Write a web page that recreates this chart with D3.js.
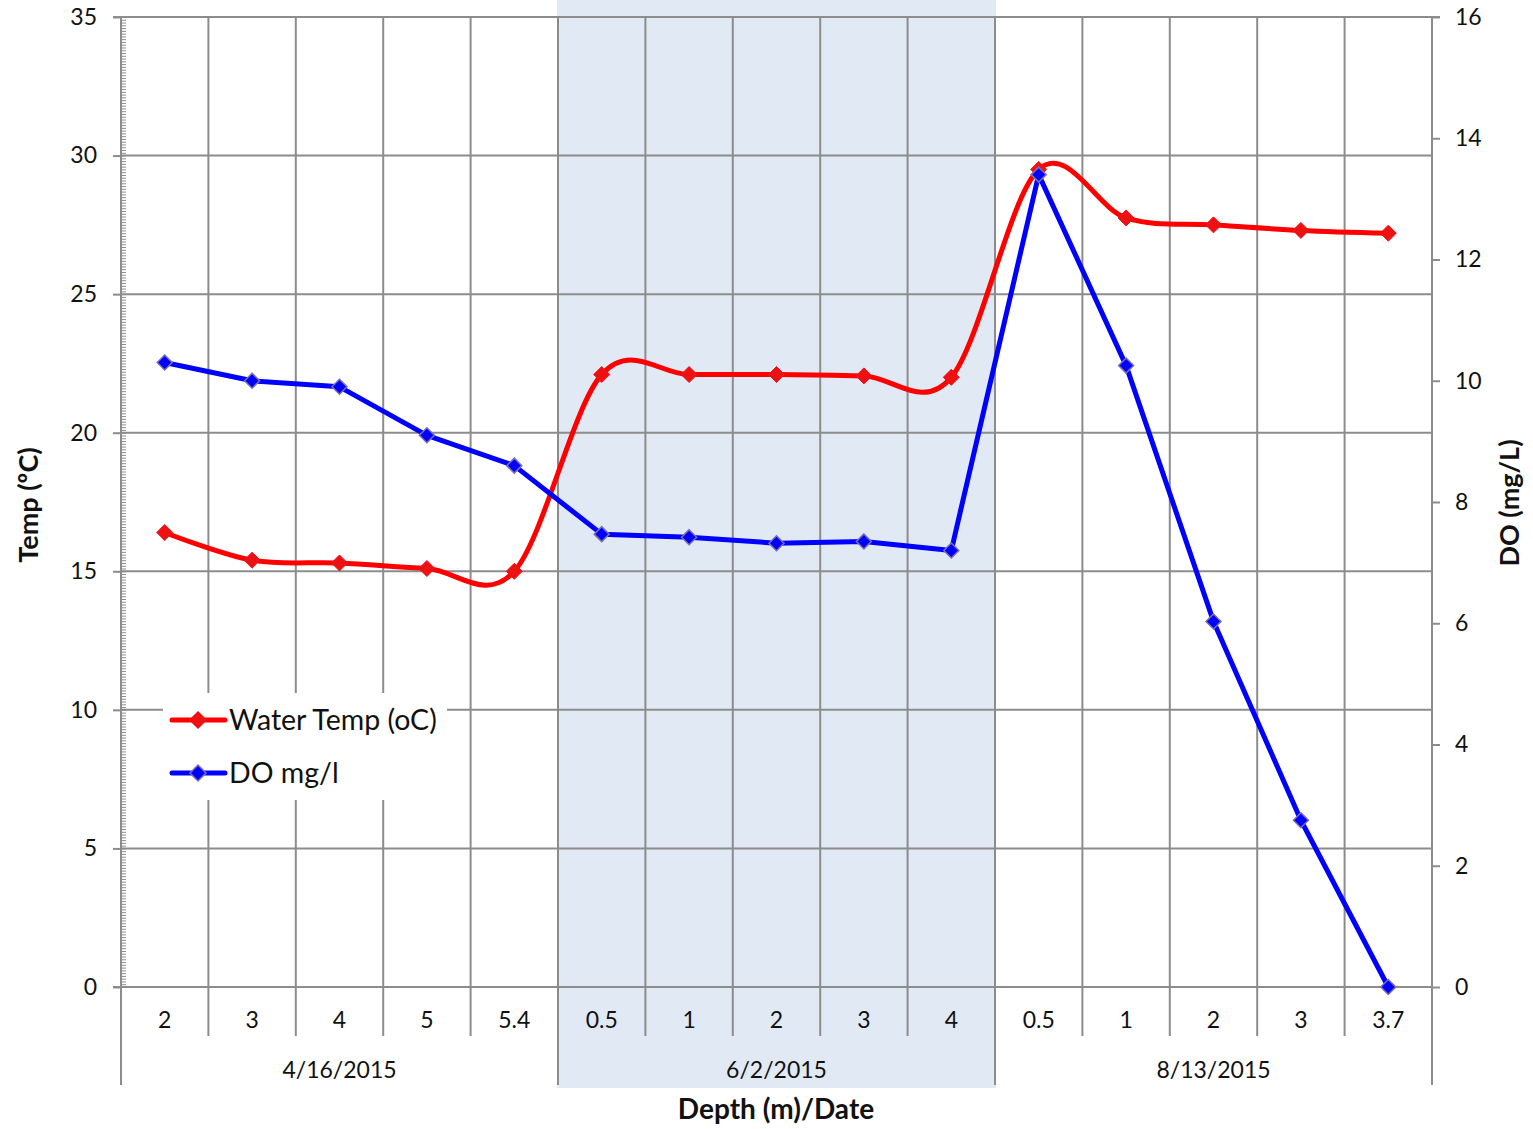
<!DOCTYPE html>
<html><head><meta charset="utf-8">
<script src="https://cdnjs.cloudflare.com/ajax/libs/d3/7.8.5/d3.min.js"></script>
<style>
html,body{margin:0;padding:0;background:#fff;}
svg{display:block;font-family:Lato,"Open Sans",sans-serif;}
</style></head>
<body>
<svg id="chart" width="1533" height="1129"></svg>
<script>
// ---- data ----
const depths = ["2","3","4","5","5.4","0.5","1","2","3","4","0.5","1","2","3","3.7"];
const dates = ["4/16/2015","6/2/2015","8/13/2015"];
const groupSizes = [5,5,5];
const waterTemp = [16.4,15.4,15.3,15.1,15.0,22.1,22.1,22.1,22.05,22.0,29.5,27.75,27.5,27.3,27.2];
const doValues  = [10.3,10.0,9.9,9.1,8.6,7.47,7.42,7.32,7.35,7.2,13.4,10.25,6.03,2.75,0.0];
const tempTicks = [0,5,10,15,20,25,30,35];
const doTicks = [0,2,4,6,8,10,12,14,16];
const shadedGroup = 1;
const titleText = "Water Temperature and DO Depth Profile";

// ---- layout ----
const L = 121, R = 1432, T = 17, B = 987;
const svg = d3.select("#chart");
const x = d3.scaleBand().domain(d3.range(depths.length)).range([L, R]).padding(0);
const yL = d3.scaleLinear().domain([0,35]).range([B, T]);
const yR = d3.scaleLinear().domain([0,16]).range([B, T]);
const grid = "#8c8c8c";
const txt = "#111";

// group boundaries
const starts = [];
let acc = 0;
groupSizes.forEach(s => { starts.push(acc); acc += s; });

// shaded group
const g0 = starts[shadedGroup], g1 = g0 + groupSizes[shadedGroup];
svg.append("rect")
  .attr("x", x(g0) - 1).attr("y", 0)
  .attr("width", x(g1 - 1) + x.bandwidth() - x(g0) + 2)
  .attr("height", 1088)
  .attr("fill", "#e1e9f4");

// horizontal gridlines
svg.append("g").selectAll("line").data(tempTicks).join("line")
  .attr("x1", L).attr("x2", R)
  .attr("y1", d => yL(d)).attr("y2", d => yL(d))
  .attr("stroke", grid).attr("stroke-width", 2);

// vertical gridlines + axis separators
const isGroupEdge = i => starts.includes(i) || i === depths.length;
svg.append("g").selectAll("line").data(d3.range(0, depths.length + 1)).join("line")
  .attr("x1", i => i === depths.length ? R : x(i))
  .attr("x2", i => i === depths.length ? R : x(i))
  .attr("y1", T)
  .attr("y2", i => isGroupEdge(i) ? 1085 : 1036)
  .attr("stroke", grid).attr("stroke-width", 2);

// left axis major ticks + labels
const axL = svg.append("g").attr("transform", `translate(${L},0)`)
  .call(d3.axisLeft(yL).tickValues(tempTicks).tickSize(8).tickPadding(16).tickFormat(d3.format("d")));
axL.select(".domain").remove();
axL.selectAll("line").attr("stroke", grid).attr("stroke-width", 2);
axL.selectAll("text").attr("font-size", 23).attr("fill", txt).attr("font-family", "Lato");

// left axis minor ticks (inside)
const axLm = svg.append("g").attr("transform", `translate(${L},0)`)
  .call(d3.axisRight(yL).tickValues(d3.range(0, 35.001, 0.1)).tickSize(5).tickFormat(""));
axLm.select(".domain").remove();
axLm.selectAll("line").attr("stroke", grid).attr("stroke-width", 1);

// right axis
const axR = svg.append("g").attr("transform", `translate(${R},0)`)
  .call(d3.axisRight(yR).tickValues(doTicks).tickSize(8).tickPadding(15).tickFormat(d3.format("d")));
axR.select(".domain").remove();
axR.selectAll("line").attr("stroke", grid).attr("stroke-width", 2);
axR.selectAll("text").attr("font-size", 23).attr("fill", txt).attr("font-family", "Lato");

// bottom axis baseline (extends for left tick)
svg.append("line").attr("x1", L - 8).attr("x2", R).attr("y1", B).attr("y2", B)
  .attr("stroke", grid).attr("stroke-width", 2);
svg.append("line").attr("x1", L - 8).attr("x2", R + 8).attr("y1", T).attr("y2", T)
  .attr("stroke", grid).attr("stroke-width", 2);

// depth labels
const axB = svg.append("g").attr("transform", `translate(0,${B})`)
  .call(d3.axisBottom(x).tickSize(0).tickPadding(25).tickFormat(i => depths[i]));
axB.select(".domain").remove();
axB.selectAll("text").attr("font-size", 23).attr("fill", txt).attr("font-family", "Lato");

// date labels
svg.append("g").selectAll("text").data(dates).join("text")
  .attr("x", (d, k) => (x(starts[k]) + x(starts[k] + groupSizes[k] - 1) + x.bandwidth()) / 2)
  .attr("y", 1078)
  .attr("text-anchor", "middle").attr("font-size", 23).attr("fill", txt)
  .text(d => d);

// series
const temp = waterTemp.map((v, i) => [x(i) + x.bandwidth() / 2, yL(v)]);
const dov = doValues.map((v, i) => [x(i) + x.bandwidth() / 2, yR(v)]);
const red = "#ff0000", blue = "#0000ff";

svg.append("path").attr("d", d3.line().curve(d3.curveCardinal.tension(0))(temp))
  .attr("fill", "none").attr("stroke", red).attr("stroke-width", 5).attr("stroke-linejoin", "round");
svg.append("path").attr("d", d3.line()(dov))
  .attr("fill", "none").attr("stroke", blue).attr("stroke-width", 5).attr("stroke-linejoin", "round");

const diamond = s => `M0,${-s}L${s},0L0,${s}L${-s},0Z`;
svg.append("g").selectAll("path").data(temp).join("path")
  .attr("transform", d => `translate(${d[0]},${d[1]})`)
  .attr("d", diamond(8)).attr("fill", "#ee1111").attr("stroke", "#e8141e").attr("stroke-width", 1);
svg.append("g").selectAll("path").data(dov).join("path")
  .attr("transform", d => `translate(${d[0]},${d[1]})`)
  .attr("d", diamond(7.5)).attr("fill", blue).attr("stroke", "#7b6fb0").attr("stroke-width", 1.5);

// legend
const lg = svg.append("g");
lg.append("rect").attr("x", 163).attr("y", 693).attr("width", 284).attr("height", 107).attr("fill", "#fff");
const legendItems = [{name: "Water Temp (oC)", color: red, fill: "#ee1111", stroke: "#e8141e", y: 720},
                     {name: "DO mg/l", color: blue, fill: blue, stroke: "#7b6fb0", y: 773}];
legendItems.forEach(it => {
  lg.append("line").attr("x1", 172).attr("x2", 225).attr("y1", it.y).attr("y2", it.y)
    .attr("stroke", it.color).attr("stroke-width", 5).attr("stroke-linecap", "round");
  lg.append("path").attr("transform", `translate(198,${it.y})`).attr("d", diamond(8))
    .attr("fill", it.fill).attr("stroke", it.stroke).attr("stroke-width", 1.5);
  lg.append("text").attr("x", 229).attr("y", it.y + 10).attr("font-size", 28.5).attr("fill", txt).text(it.name);
});

// axis titles
svg.append("text").attr("transform", "translate(38,505) rotate(-90)")
  .attr("text-anchor", "middle").attr("font-size", 27).attr("font-weight", "bold").attr("fill", txt)
  .text("Temp (ºC)");
svg.append("text").attr("transform", "translate(1519,503) rotate(-90)")
  .attr("text-anchor", "middle").attr("font-size", 27).attr("font-weight", "bold").attr("fill", txt)
  .text("DO (mg/L)");
svg.append("text").attr("x", 776).attr("y", 1119)
  .attr("text-anchor", "middle").attr("font-size", 28).attr("font-weight", "bold").attr("fill", txt)
  .text("Depth (m)/Date");

// title (mostly above the visible area, as in the reference)
const title = svg.append("text").attr("x", 0).attr("y", -4)
  .attr("font-size", 27).attr("font-weight", "bold").attr("fill", "#000").text(titleText);
const pIdx = titleText.indexOf("p");
const ext = title.node().getExtentOfChar(pIdx);
title.attr("x", 755 - (ext.x + ext.width * 0.22));
</script>
</body></html>
